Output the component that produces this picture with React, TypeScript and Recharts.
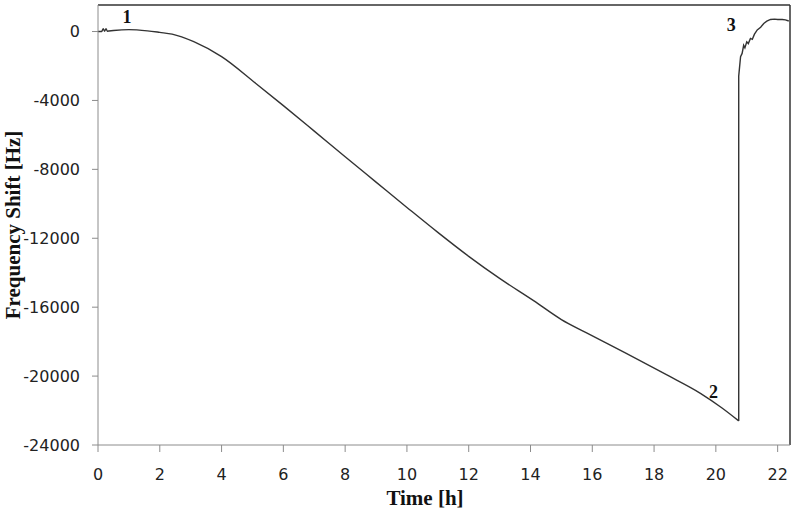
import { LineChart, Line, XAxis, YAxis, ReferenceLine, ReferenceDot, Label } from "recharts";

// slow decrease, time [h] and frequency shift [Hz]
const fallTime = [
  0, 0.12, 0.17, 0.21, 0.26, 0.3, 0.5, 1.0, 1.6, 2.0, 2.4, 3.1, 4.0, 5.1, 6.0, 7.0, 8.0,
  9.0, 10.0, 11.0, 12.0, 13.0, 14.1, 15.0, 15.8, 17.1, 18.4, 19.5, 20.2, 20.74,
];
const fallShift = [
  0, 0, 170, 20, 170, 20, 60, 110, 40, -50, -150, -590, -1460, -3000, -4300, -5780, -7270,
  -8740, -10210, -11660, -13050, -14330, -15620, -16720, -17480, -18680, -19920, -21000, -21850, -22600,
];

// fast recovery after point 2
const riseTime = [
  20.74, 20.74, 20.8, 20.85, 20.9, 20.94, 21.0, 21.05, 21.12, 21.18, 21.25, 21.34, 21.45,
  21.55, 21.65, 21.77, 21.9, 22.0, 22.15, 22.25, 22.36,
];
const riseShift = [
  -22600, -2590, -1460, -1270, -800, -950, -600, -700, -400, -450, -150, 90, 250,
  470, 600, 700, 720, 700, 700, 680, 610,
];

const xTicks = [0, 2, 4, 6, 8, 10, 12, 14, 16, 18, 20, 22];
const yTicks = [-24000, -20000, -16000, -12000, -8000, -4000, 0];

// point labels 1, 2, 3 placed in data units
const markNames = ["1", "2", "3"];
const markTime = [0.94, 19.92, 20.5];
const markShift = [840, -20920, 380];

const data = [
  ...fallTime.map((t, i) => ({ t, f: fallShift[i], g: i === fallTime.length - 1 ? fallShift[i] : null })),
  ...riseTime.slice(1).map((t, i) => ({ t, f: null, g: riseShift[i + 1] })),
];

const X_MAX = 22.4;
const Y_MAX = 1540;

const tickStyle = { fontFamily: "DejaVu Sans", fontSize: 16, fill: "#222" };
const titleFont = "Liberation Serif";

export default function App() {
  return (
    <div style={{ position: "absolute", left: 0, top: 0, background: "#fff" }}>
      <LineChart
        width={800}
        height={514}
        data={data}
        margin={{ top: 5, right: 10, bottom: 0, left: 0 }}
      >
        <XAxis
          dataKey="t"
          type="number"
          domain={[0, X_MAX]}
          ticks={xTicks}
          height={69}
          tick={tickStyle}
          tickSize={7}
          tickMargin={17}
          stroke="#8c8c8c"
          allowDataOverflow
        >
          <Label
            content={({ viewBox }: any) => (
              <text
                x={viewBox.x + viewBox.width / 2 - 19}
                y={viewBox.y + 60}
                textAnchor="middle"
                fontFamily={titleFont}
                fontWeight="bold"
                fontSize={21}
                fill="#111"
              >
                Time [h]
              </text>
            )}
          />
        </XAxis>
        <YAxis
          type="number"
          domain={[-24000, Y_MAX]}
          ticks={yTicks}
          width={98}
          tick={tickStyle}
          tickSize={6}
          tickMargin={12}
          stroke="#8c8c8c"
          allowDataOverflow
        >
          <Label
            content={({ viewBox }: any) => {
              const cx = 20;
              const cy = viewBox.y + viewBox.height / 2;
              return (
                <text
                  x={cx}
                  y={cy}
                  transform={`rotate(-90 ${cx} ${cy})`}
                  textAnchor="middle"
                  fontFamily={titleFont}
                  fontWeight="bold"
                  fontSize={21}
                  fill="#111"
                >
                  Frequency Shift [Hz]
                </text>
              );
            }}
          />
        </YAxis>
        <ReferenceLine y={Y_MAX} stroke="#333" strokeWidth={1.5} />
        <ReferenceLine x={X_MAX} stroke="#333" strokeWidth={1.5} />
        <Line
          type="monotone"
          dataKey="f"
          stroke="#333"
          strokeWidth={1.4}
          dot={false}
          connectNulls={false}
          isAnimationActive={false}
        />
        <Line
          type="linear"
          dataKey="g"
          stroke="#333"
          strokeWidth={1.4}
          dot={false}
          connectNulls={false}
          isAnimationActive={false}
        />
        {markNames.map((name, i) => (
          <ReferenceDot
            key={name}
            x={markTime[i]}
            y={markShift[i]}
            r={0}
            fill="none"
            stroke="none"
          >
            <Label
              value={name}
              position="center"
              fontFamily={titleFont}
              fontWeight="bold"
              fontSize={18}
              fill="#111"
            />
          </ReferenceDot>
        ))}
      </LineChart>
    </div>
  );
}
